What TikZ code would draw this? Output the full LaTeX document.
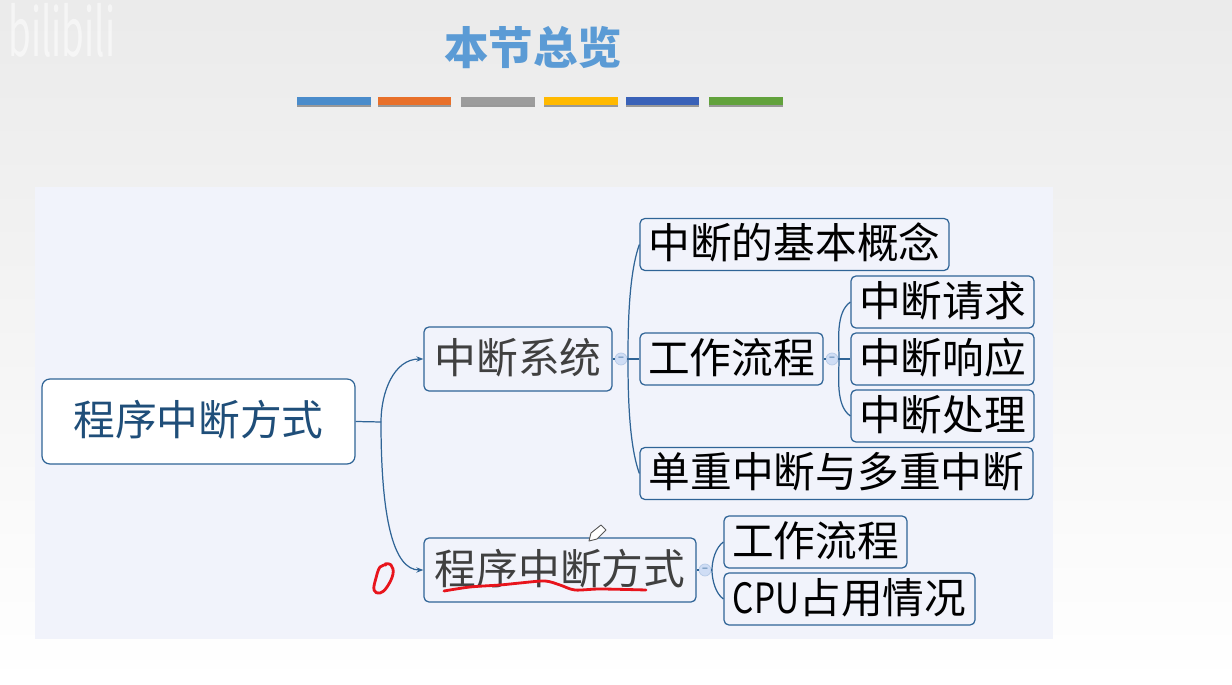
\documentclass[tikz,border=0pt]{standalone}
\usepackage{fontspec}
\usepackage{xcolor}
\usepackage{graphicx}
\setmainfont{Noto Sans CJK SC}
\usetikzlibrary{positioning, arrows.meta, calc}

\definecolor{panelbg}{HTML}{F1F3FB}
\definecolor{edgeblue}{HTML}{2F6496}
\definecolor{titleblue}{HTML}{5B9BD5}
\definecolor{foldblue}{HTML}{CFDDF5}
\definecolor{rootink}{HTML}{1F4E79}
\definecolor{inkred}{HTML}{E8141C}

\tikzset{
  box/.style={draw=edgeblue, line width=0.7pt, rounded corners=2.8pt, inner sep=0pt, fill=panelbg, text height=20pt, text depth=4pt, font=\fontsize{23.75}{24}\selectfont},
  rootbox/.style={box, rounded corners=4.5pt, fill=white, text=rootink, minimum height=85*0.02cm},
  midbox/.style={box, text=black!75, minimum height=64*0.02cm},
  leafbox/.style={box, text=black, minimum height=52*0.02cm},
  foldbtn/.style={circle, draw=foldblue!85!edgeblue, fill=foldblue, minimum size=12*0.02cm, inner sep=0pt, text=edgeblue, font=\fontsize{6}{6}\selectfont},
  branch/.style={draw=edgeblue, line width=0.7pt},
  inkstroke/.style={draw=inkred, line width=1.6pt, line cap=round, line join=round}
}

\begin{document}
\begin{tikzpicture}[x=0.02cm, y=-0.02cm]
  \useasboundingbox (0,0) rectangle (1232,685);
  \shade[top color=black!8, bottom color=white, middle color=black!4] (0,0) rectangle (1232,685);
  \fill[panelbg] (35,187) rectangle (1053,639);

  % watermark
  \node[text=white, text opacity=0.55, xscale=0.55, font=\fontsize{38}{38}\selectfont] (mark) at (62,30) {bilibili};

  % title and colour bars
  \node[text=titleblue, font=\fontsize{25.3}{26}\selectfont\bfseries] (title) at (533,48) {本节总览};
  \foreach \xa/\xb/\barcol in {297/371/4A8CCB, 378/451/E8702A, 461/535/9C9C9C, 544/618/FFB900, 626/699/3A62B8, 709/783/62A23C}{
    \definecolor{barcol}{HTML}{\barcol}
    \fill[black!40] (\xa,99) rectangle (\xb,107);
    \fill[barcol] (\xa,97) rectangle (\xb,105);
  }

  % boxes
  \node[rootbox, minimum width=313*0.02cm] (root) at (198.5,421.5) {程序中断方式};
  \node[midbox, minimum width=188*0.02cm] (system) at (518,359) {中断系统};
  \node[midbox, minimum width=272*0.02cm] (method) at (560,570) {程序中断方式};
  \node[leafbox, minimum width=309*0.02cm] (concept) at (794.5,244.5) {中断的基本概念};
  \node[leafbox, minimum width=183*0.02cm] (flow) at (731.5,359) {工作流程};
  \node[leafbox, minimum width=393*0.02cm] (single) at (836.5,473.5) {单重中断与多重中断};
  \node[leafbox, minimum width=183*0.02cm] (request) at (942.5,302) {中断请求};
  \node[leafbox, minimum width=183*0.02cm] (respond) at (942.5,359) {中断响应};
  \node[leafbox, minimum width=183*0.02cm] (handle) at (942.5,416) {中断处理};
  \node[leafbox, minimum width=183*0.02cm] (flowb) at (815.5,542) {工作流程};
  \node[leafbox, minimum width=251*0.02cm] (cpu) at (849.5,599) {\scalebox{0.8}[1]{CPU}占用情况};

  % fold buttons and forks
  \node[foldbtn] (foldsys) at (621,359) {−};
  \node[foldbtn] (foldflow) at (832,359) {−};
  \node[foldbtn] (foldmethod) at (705,570) {−};
  \coordinate (forkroot) at (381,422);
  \coordinate (forksys) at (628,359);
  \coordinate (forkflow) at (839,359);
  \coordinate (forkmethod) at (712,570);

  % connectors
  \draw[branch] (root.east) -- (forkroot);
  \draw[branch, -{Stealth[length=4pt]}] (forkroot) to[out=90, in=180, looseness=1] (system.west);
  \draw[branch, -{Stealth[length=4pt]}] (forkroot) to[out=-90, in=180, out looseness=1.6, in looseness=0.5] (method.west);
  \draw[branch] (system.east) -- (foldsys) -- (flow.west);
  \draw[branch] (forksys) to[out=90, in=250, looseness=0.7] (concept.west);
  \draw[branch] (forksys) to[out=-90, in=110, looseness=0.7] (single.west);
  \draw[branch] (flow.east) -- (foldflow) -- (respond.west);
  \draw[branch] (forkflow) to[out=90, in=215, looseness=0.8] (request.west);
  \draw[branch] (forkflow) to[out=-90, in=145, looseness=0.8] (handle.west);
  \draw[branch] (method.east) -- (foldmethod) -- (forkmethod);
  \draw[branch] (forkmethod) to[out=90, in=215, looseness=0.8] (flowb.west);
  \draw[branch] (forkmethod) to[out=-90, in=145, looseness=0.8] (cpu.west);

  % pen strokes
  \draw[inkstroke] plot[smooth, tension=0.5] coordinates {(444,591) (470,587) (500,585) (520,583) (545,581) (560,585) (575,590) (600,589) (646,590)};
  \draw[inkstroke] plot[smooth, tension=0.7] coordinates {(386,565) (380,567) (376,578) (374,590) (380,593) (387,587) (393,574) (391,565) (385,564)};

  % pencil cursor
  \draw[fill=white, draw=black!65, line width=0.5pt, line join=round] (589,541) -- (591,533) -- (601,525) -- (606,530) -- (597,539) -- cycle;
\end{tikzpicture}
\end{document}
